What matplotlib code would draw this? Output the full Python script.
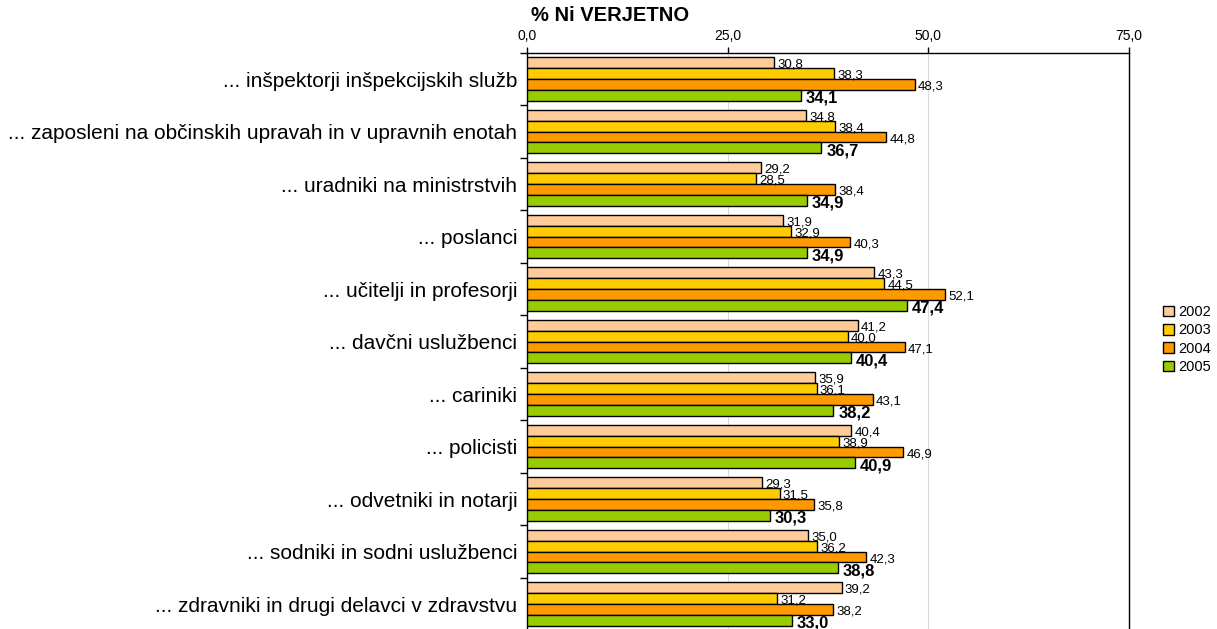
import numpy as np
import matplotlib
matplotlib.use('Agg')
import matplotlib.pyplot as plt

plt.rcParams['font.family'] = ['Liberation Sans', 'DejaVu Sans']

#### data ####
categories = [
    '... inšpektorji inšpekcijskih služb',
    '... zaposleni na občinskih upravah in v upravnih enotah',
    '... uradniki na ministrstvih',
    '... poslanci',
    '... učitelji in profesorji',
    '... davčni uslužbenci',
    '... cariniki',
    '... policisti',
    '... odvetniki in notarji',
    '... sodniki in sodni uslužbenci',
    '... zdravniki in drugi delavci v zdravstvu',
]
years = ['2002', '2003', '2004', '2005']
v2002 = [30.8, 34.8, 29.2, 31.9, 43.3, 41.2, 35.9, 40.4, 29.3, 35.0, 39.2]
v2003 = [38.3, 38.4, 28.5, 32.9, 44.5, 40.0, 36.1, 38.9, 31.5, 36.2, 31.2]
v2004 = [48.3, 44.8, 38.4, 40.3, 52.1, 47.1, 43.1, 46.9, 35.8, 42.3, 38.2]
v2005 = [34.1, 36.7, 34.9, 34.9, 47.4, 40.4, 38.2, 40.9, 30.3, 38.8, 33.0]
series = [v2002, v2003, v2004, v2005]
colors = ['#FFCC99', '#FFCC00', '#FF9900', '#99CC00']
xticks = [0, 25, 50, 75]


def fmt(v):
    return f"{v:.1f}".replace('.', ',')


fig = plt.figure(figsize=(12.17, 6.29), dpi=100)
ax = fig.add_axes([0.433, -0.002, 0.4945, 0.918])

n = len(categories)
bh = 0.208
centers = np.arange(n)
for k, (vals, col) in enumerate(zip(series, colors)):
    ypos = centers - 1.5 * bh + k * bh
    ax.barh(ypos, vals, height=bh, color=col, edgecolor='black', linewidth=1.0,
            label=years[k], zorder=3)
    for y, v in zip(ypos, vals):
        if k == 3:
            ax.text(v + 0.6, y + 0.05, fmt(v), fontsize=12, fontweight='bold',
                    va='center', ha='left', zorder=4)
        else:
            ax.text(v + 0.4, y + 0.04, fmt(v), fontsize=9.5, va='center', ha='left', zorder=4)

ax.set_xlim(0, 75)
ax.set_ylim(n - 0.5, -0.5)
ax.xaxis.tick_top()
ax.set_xticks(xticks)
ax.set_xticklabels([fmt(x) for x in xticks], fontsize=10)
ax.tick_params(axis='x', length=4, pad=3, width=1)
for x in [25, 50]:
    ax.axvline(x, color='#d9d9d9', linewidth=0.8, zorder=1)

# group boundary ticks on the left, labels at centres
ax.set_yticks(np.arange(n + 1) - 0.5)
ax.set_yticklabels([])
ax.tick_params(axis='y', which='major', length=5, width=1)
ax.set_yticks(centers, minor=True)
ax.set_yticklabels(categories, minor=True, fontsize=15)
ax.tick_params(axis='y', which='minor', length=0, pad=7)

for s in ['top', 'left', 'right']:
    ax.spines[s].set_linewidth(1.0)
ax.spines['bottom'].set_visible(False)

fig.text(0.436, 0.975, '% Ni VERJETNO', fontsize=14.5, fontweight='bold', va='center', ha='left')

fig.legend(loc='center left', bbox_to_anchor=(0.951, 0.46), frameon=False, fontsize=10.5,
           handlelength=0.75, handleheight=0.75, handletextpad=0.3, labelspacing=0.3,
           borderaxespad=0)

fig.savefig('out.png', dpi=100)
